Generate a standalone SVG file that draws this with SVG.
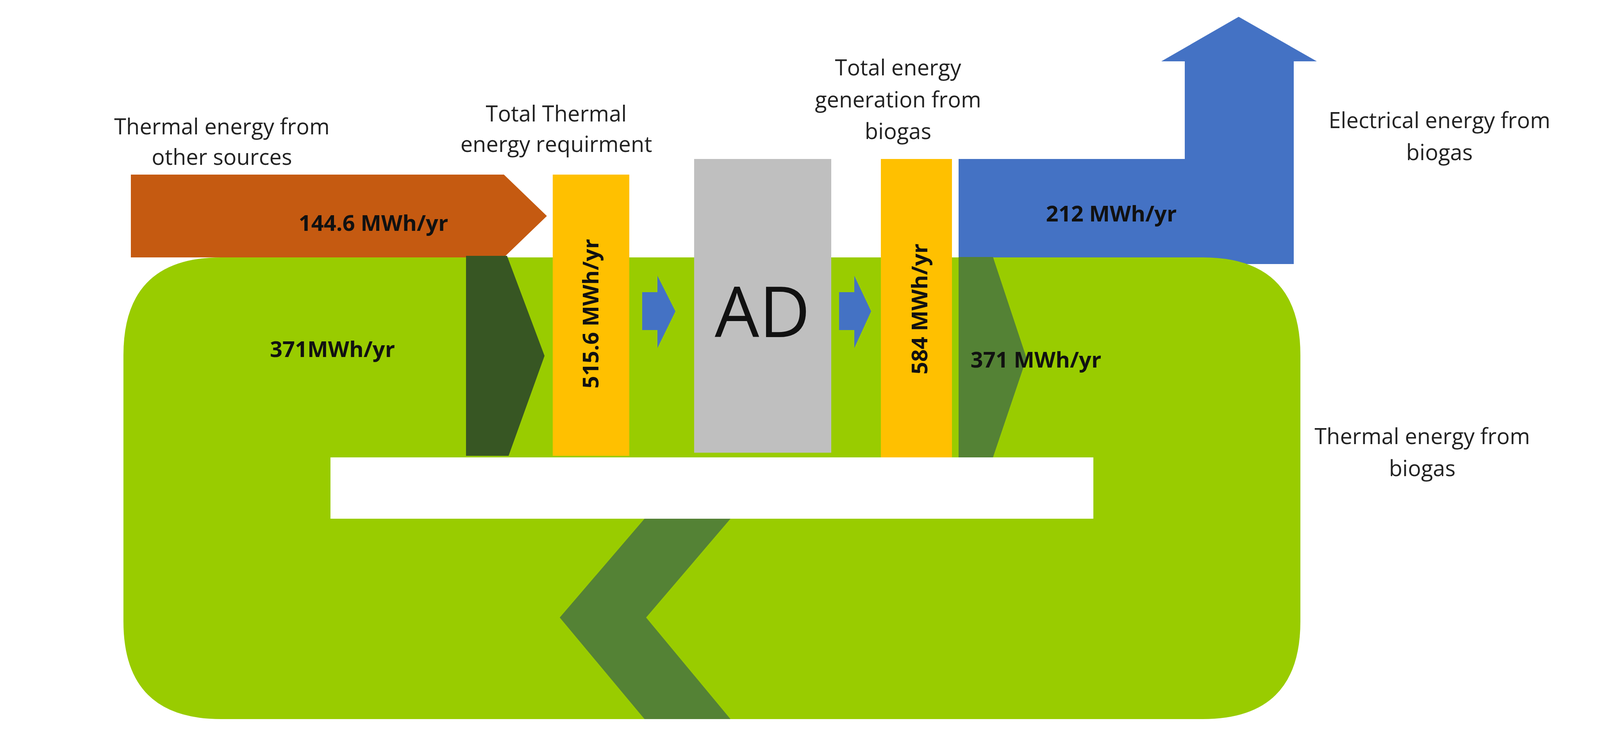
<svg xmlns="http://www.w3.org/2000/svg" width="4125" height="1892" viewBox="0 0 4125 1892">
<style>
.lbl{font-family:"Open Sans","Liberation Sans",sans-serif;font-size:56px;fill:#222;text-anchor:middle}
.val{font-family:"Open Sans","Liberation Sans",sans-serif;font-size:56px;font-weight:bold;fill:#111;text-anchor:middle}
</style>
<rect width="4125" height="1892" fill="#fff"/>
<g id="electrical-arrow"><polygon points="2454,407 3033,407 3033,157 2973,157 3171,43 3371,157 3312,157 3312,676 2454,676" fill="#4472C4"/></g>
<g id="green-loop"><path d="M566,659 H3079 Q3329,659 3329,909 V1591 Q3329,1841 3079,1841 H566 Q316,1841 316,1591 V909 Q316,659 566,659 Z" fill="#99CC00"/>
<rect x="846" y="1171" width="1953" height="157" fill="#fff"/></g>
<g id="orange-arrow"><polygon points="335,447 1290,447 1400,553 1290,659 335,659" fill="#C55A11"/></g>
<g id="connectors">
<polygon points="1193,655 1298,655 1394,911 1302,1167 1193,1167" fill="#375623"/>
<polygon points="2454,658 2542,658 2628,917 2542,1171 2454,1171" fill="#548235"/>
<polygon points="1650,1328 1870,1328 1654,1581 1870,1841 1650,1841 1433,1581" fill="#548235"/>
<polygon points="1644,748 1683,748 1683,706 1729,797 1683,891 1683,845 1644,845" fill="#4472C4"/>
<polygon points="2148,748 2187,748 2187,706 2230,797 2187,891 2187,845 2148,845" fill="#4472C4"/>
</g>
<g id="req-bar"><rect x="1415" y="447" width="196" height="720" fill="#FFC000"/>
<text class="val" transform="translate(1532,803) rotate(-90)">515.6 MWh/yr</text></g>
<g id="ad"><rect x="1777" y="407" width="351" height="752" fill="#BFBFBF"/>
<text x="1952" y="863" font-family="Open Sans, Liberation Sans, sans-serif" font-size="180" fill="#111" text-anchor="middle">AD</text></g>
<g id="gen-bar"><rect x="2255" y="407" width="182" height="764" fill="#FFC000"/>
<text class="val" transform="translate(2374,791) rotate(-90)">584 MWh/yr</text></g>
<g id="labels">
<text class="lbl" x="568" y="344">Thermal energy from</text>
<text class="lbl" x="568" y="422">other sources</text>
<text class="lbl" x="1424" y="311">Total Thermal</text>
<text class="lbl" x="1424" y="389">energy requirment</text>
<text class="lbl" x="2299" y="193">Total energy</text>
<text class="lbl" x="2299" y="275">generation from</text>
<text class="lbl" x="2299" y="356">biogas</text>
<text class="lbl" x="3685" y="328">Electrical energy from</text>
<text class="lbl" x="3685" y="410">biogas</text>
<text class="lbl" x="3641" y="1137">Thermal energy from</text>
<text class="lbl" x="3641" y="1219">biogas</text>
<text class="val" x="956" y="591">144.6 MWh/yr</text>
<text class="val" x="851" y="914">371MWh/yr</text>
<text class="val" x="2845" y="567">212 MWh/yr</text>
<text class="val" x="2652" y="941" text-anchor="start">371 MWh/yr</text>
</g>
</svg>
